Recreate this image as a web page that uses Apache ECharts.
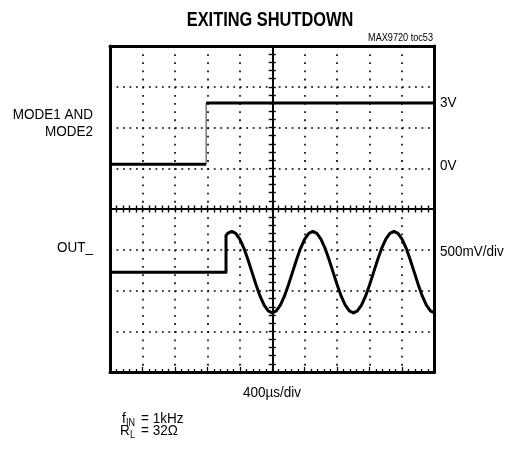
<!DOCTYPE html>
<html><head><meta charset="utf-8">
<script src="https://cdn.jsdelivr.net/npm/echarts@6/dist/echarts.min.js"></script>
<style>html,body{margin:0;padding:0;background:#fff}#c{width:512px;height:457px}</style>
</head><body><div id="c"></div><script>
// Time base: 400 us per division, 10 divisions
const timeMin = 0, timeMax = 4000, timePerDiv = 400;

// MODE1/MODE2 logic input (volts)
const modeTime  = [0, 1185, 1185, 4000];
const modeVolts = [0, 0, 3, 3];

// Amplifier output (mV relative to its own ground marker)
const outTime = [0, 1430, 1430, 1450, 1500, 1550, 1600, 1650, 1700, 1750, 1800, 1850, 1900, 1950,
  2000, 2050, 2100, 2150, 2200, 2250, 2300, 2350, 2400, 2450,
  2500, 2550, 2600, 2650, 2700, 2750, 2800, 2850, 2900, 2950,
  3000, 3050, 3100, 3150, 3200, 3250, 3300, 3350, 3400, 3450,
  3500, 3550, 3600, 3650, 3700, 3750, 3800, 3850, 3900, 3950, 4000];
const outMv = [0, 0, 450, 475, 500, 475, 405, 295, 155, 0, -155, -295, -405, -475,
  -500, -475, -405, -295, -155, 0, 155, 295, 405, 475,
  500, 475, 405, 295, 155, 0, -155, -295, -405, -475,
  -500, -475, -405, -295, -155, 0, 155, 295, 405, 475,
  500, 475, 405, 295, 155, 0, -155, -295, -405, -475, -500];

// Channel settings: ground position (divisions from bottom) and scale
const modeGroundDiv = 5.1, modeVoltsPerDiv = 2;
const outGroundDiv = 2.45, outMvPerDiv = 500;

const FONT = "'Liberation Sans', Arial, sans-serif";

const toDiv = (t, v, g, s) => t.map((x, i) => [x, g + v[i] / s]);
const modePts = toDiv(modeTime, modeVolts, modeGroundDiv, modeVoltsPerDiv);
const outPts = toDiv(outTime, outMv, outGroundDiv, outMvPerDiv);

const G = { left: 110, top: 46, width: 324.5, height: 326 };

const dotX = { show: true, lineStyle: { color: '#000', width: 1.6, type: [1.8, 6.35] } };
const dotY = { show: true, lineStyle: { color: '#000', width: 1.6, type: [1.8, 4.69] } };
const border = { show: true, onZero: false, lineStyle: { color: '#000', width: 3 } };
const noLabel = { show: false };

function xBase(extra) {
  return Object.assign({ type: 'value', min: timeMin, max: timeMax, interval: timePerDiv,
    axisLabel: noLabel, splitLine: { show: false }, axisTick: { show: false } }, extra);
}
function yBase(extra) {
  return Object.assign({ type: 'value', min: 0, max: 8, interval: 1,
    axisLabel: noLabel, splitLine: { show: false }, axisTick: { show: false } }, extra);
}
const centerTick = (inside) => ({ show: true, inside: inside, length: 3.5, lineStyle: { color: '#000', width: 1.4 } });
const centerMinor = (inside) => ({ show: true, splitNumber: 5, length: 3.5, lineStyle: { color: '#000', width: 1.4 } });

// Narrow text helper (condensed face approximated by horizontal scaling)
function label(text, x, y, size, align, opts) {
  opts = opts || {};
  return { type: 'text', x: x, y: y, scaleX: opts.sx || 0.9,
    style: { text: text, font: (opts.weight || 'normal') + ' ' + size + 'px ' + FONT, fill: '#000',
      textAlign: align, textVerticalAlign: 'middle' } };
}

const chart = echarts.init(document.getElementById('c'), null, { renderer: 'canvas' });
chart.setOption({
  animation: false,
  backgroundColor: '#fff',
  grid: Object.assign({ containLabel: false }, G),
  xAxis: [
    xBase({ position: 'bottom', axisLine: border, splitLine: dotX,
      axisTick: { show: true, inside: true, length: 5, lineStyle: { color: '#000', width: 1.3 } },
      minorTick: { show: true, splitNumber: 5, length: 3, lineStyle: { color: '#000', width: 1.3 } } }),
    xBase({ position: 'top', axisLine: border }),
    xBase({ position: 'bottom', offset: -G.height / 2, axisLine: { show: true, onZero: false, lineStyle: { color: '#000', width: 2 } },
      axisTick: centerTick(true), minorTick: centerMinor(true) }),
    xBase({ position: 'bottom', offset: -G.height / 2, axisLine: { show: false, onZero: false },
      axisTick: centerTick(false), minorTick: centerMinor(false) })
  ],
  yAxis: [
    yBase({ position: 'left', axisLine: border, splitLine: dotY }),
    yBase({ position: 'right', axisLine: border }),
    yBase({ position: 'left', offset: -G.width / 2, axisLine: { show: true, onZero: false, lineStyle: { color: '#000', width: 2 } },
      axisTick: centerTick(true), minorTick: centerMinor(true) }),
    yBase({ position: 'left', offset: -G.width / 2, axisLine: { show: false, onZero: false },
      axisTick: centerTick(false), minorTick: centerMinor(false) })
  ],
  series: [
    { name: 'MODE', type: 'line', data: modePts.slice(0, 2), showSymbol: false, lineStyle: { color: '#000', width: 3 }, z: 5 },
    { name: 'MODE edge', type: 'line', data: modePts.slice(1, 3), showSymbol: false, lineStyle: { color: '#333', width: 1 }, z: 5 },
    { name: 'MODE high', type: 'line', data: modePts.slice(2), showSymbol: false, lineStyle: { color: '#000', width: 3 }, z: 5 },
    { name: 'OUT', type: 'line', data: outPts, showSymbol: false, lineStyle: { color: '#000', width: 3, join: 'round' }, z: 5 }
  ],
  graphic: [
    label('EXITING SHUTDOWN', 270, 20, 21, 'center', { weight: 'bold', sx: 0.78 }),
    label('MAX9720 toc53', 433, 38, 11, 'right', { sx: 0.83 }),
    label('MODE1 AND', 93, 115, 15, 'right'),
    label('MODE2', 93, 132, 15, 'right'),
    label('OUT_', 93, 248, 15, 'right'),
    label('3V', 440, 103, 15, 'left'),
    label('0V', 440, 166, 15, 'left'),
    label('500mV/div', 440, 252, 15, 'left'),
    label('400µs/div', 272, 393, 15, 'center'),
    label('f', 122, 419, 15, 'left'),
    label('IN', 126, 423, 10, 'left'),
    label('= 1kHz', 141, 419, 15, 'left'),
    label('R', 120, 431, 15, 'left'),
    label('L', 130, 435, 10, 'left'),
    label('= 32Ω', 141, 431, 15, 'left')
  ]
});
</script></body></html>
